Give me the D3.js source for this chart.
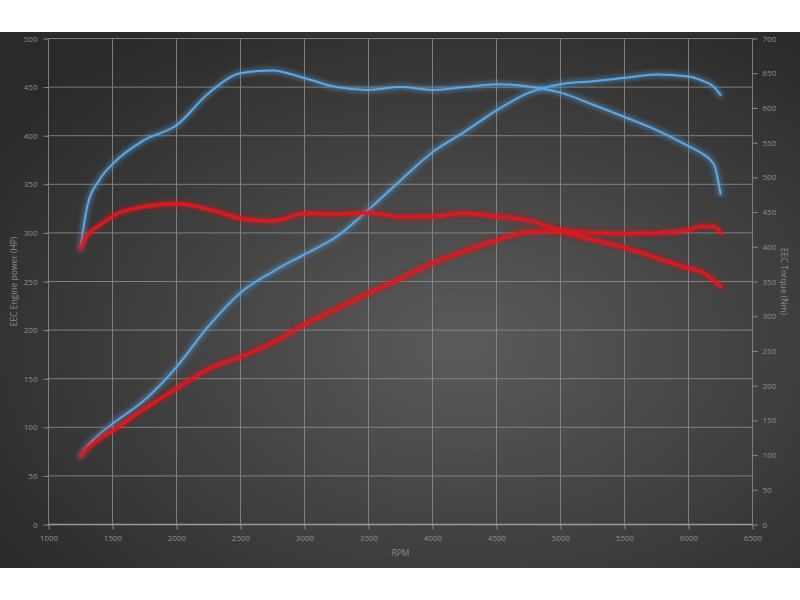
<!DOCTYPE html>
<html>
<head>
<meta charset="utf-8">
<script src="https://cdn.jsdelivr.net/npm/d3@7"></script>
<style>
  body { margin: 0; background: #fff; }
  svg { display: block; font-family: "Open Sans", sans-serif; }
</style>
</head>
<body>
<svg id="chart" width="800" height="600"></svg>
<script>
// rpm points shared by all four curves
const rpm = [1250, 1300, 1400, 1500, 1750, 2000, 2250, 2500, 2750, 3000, 3250, 3500,
             3750, 4000, 4250, 4500, 4750, 5000, 5250, 5500, 5750, 6000, 6100, 6200, 6250];

// blue car: power (HP, left axis) and torque (Nm, right axis)
const bluePower = [71, 80, 93, 103.5, 128, 162, 204, 238.5, 260, 278, 296, 324,
                   354, 383, 404, 426, 444, 453, 456, 459.5, 463, 461, 457, 450, 442];
const blueTorque = [398, 456, 497, 519, 554, 575, 621, 650, 654, 643, 630, 626,
                    630, 626, 630, 634, 631, 622, 605, 587, 568, 545, 535, 518, 476];

// red car
const redPower = [71, 78, 88, 96.5, 119, 140, 160, 172.5, 187, 206, 222, 238,
                  253, 269, 281, 292.5, 301, 302, 300, 299.5, 300, 303, 306.5, 306.5, 300];
const redTorque = [398, 416, 431, 444, 458, 462, 454, 441, 437, 448, 447, 449,
                   443, 444, 448, 444, 438, 423, 410, 399, 384, 369, 364, 351, 343];

const xTicks = d3.range(1000, 6501, 500);
const hpTicks = d3.range(0, 501, 50);
const nmTicks = d3.range(0, 701, 50);

const svg = d3.select("#chart");
const mLeft = 48.5, mRight = 752.5, mTop = 38.5, mBottom = 524.5;

const x = d3.scaleLinear().domain([1000, 6500]).range([mLeft, mRight]);
const yHp = d3.scaleLinear().domain([0, 500]).range([mBottom, mTop]);
const yNm = d3.scaleLinear().domain([0, 700]).range([mBottom, mTop]);

const defs = svg.append("defs");
const grad = defs.append("radialGradient")
    .attr("id", "bg").attr("cx", "58%").attr("cy", "58%").attr("r", "70%");
grad.append("stop").attr("offset", "0%").attr("stop-color", "#5b5b5b");
grad.append("stop").attr("offset", "100%").attr("stop-color", "#2a2a2a");

const glow = defs.append("filter").attr("id", "glow")
    .attr("x", "-10%").attr("y", "-10%").attr("width", "120%").attr("height", "120%");
glow.append("feGaussianBlur").attr("stdDeviation", 2.2);

svg.append("rect")
    .attr("x", 0).attr("y", 32).attr("width", 800).attr("height", 536)
    .attr("fill", "url(#bg)");

// grid
const grid = svg.append("g").attr("stroke", "#8c8c8c").attr("stroke-width", 1).attr("opacity", 0.85);
grid.selectAll(".gx").data(xTicks).enter().append("line")
    .attr("x1", d => x(d)).attr("x2", d => x(d))
    .attr("y1", mTop).attr("y2", mBottom);
grid.selectAll(".gy").data(hpTicks).enter().append("line")
    .attr("x1", mLeft).attr("x2", mRight)
    .attr("y1", d => yHp(d)).attr("y2", d => yHp(d));

// axes
function styleAxis(g) {
    g.select(".domain").remove();
    g.selectAll(".tick line").attr("stroke", "#8c8c8c");
    g.selectAll(".tick text").attr("fill", "#8f8f8f").attr("font-size", "8px")
        .attr("font-family", "Open Sans, sans-serif");
}
svg.append("g").attr("transform", `translate(0,${mBottom})`)
    .call(d3.axisBottom(x).tickValues(xTicks).tickFormat(d3.format("d")).tickSize(5).tickPadding(6))
    .call(styleAxis);
svg.append("g").attr("transform", `translate(${mLeft},0)`)
    .call(d3.axisLeft(yHp).tickValues(hpTicks).tickSize(5).tickPadding(6))
    .call(styleAxis);
svg.append("g").attr("transform", `translate(${mRight},0)`)
    .call(d3.axisRight(yNm).tickValues(nmTicks).tickSize(5).tickPadding(5))
    .call(styleAxis);

svg.append("line").attr("x1", mLeft).attr("x2", mRight)
    .attr("y1", mBottom).attr("y2", mBottom)
    .attr("stroke", "#9a9a9a").attr("stroke-width", 1.5);

// titles
svg.append("text").attr("x", 400.5).attr("y", 556).attr("text-anchor", "middle")
    .attr("fill", "#8a8a8a").attr("font-size", "8.5px").text("RPM");
svg.append("text").attr("transform", `translate(17,${(mTop + mBottom) / 2}) rotate(-90)`)
    .attr("text-anchor", "middle").attr("fill", "#8a8a8a").attr("font-size", "8.5px")
    .text("EEC Engine power (HP)");
svg.append("text").attr("transform", `translate(781,${(mTop + mBottom) / 2}) rotate(90)`)
    .attr("text-anchor", "middle").attr("fill", "#8a8a8a").attr("font-size", "8.5px")
    .text("EEC Torque (Nm)");

// curves
const series = [
    { values: bluePower, y: yHp, color: "#62a6dc", halo: "#4f95d0", w: 2 },
    { values: blueTorque, y: yNm, color: "#62a6dc", halo: "#4f95d0", w: 2 },
    { values: redPower, y: yHp, color: "#dc1820", halo: "#e0101a", w: 3 },
    { values: redTorque, y: yNm, color: "#dc1820", halo: "#e0101a", w: 3 }
];

series.forEach(s => {
    const line = d3.line()
        .x((d, i) => x(rpm[i]))
        .y(d => s.y(d))
        .curve(d3.curveMonotoneX);
    svg.append("path").datum(s.values)
        .attr("d", line).attr("fill", "none")
        .attr("stroke", s.halo).attr("stroke-width", s.w + 4)
        .attr("stroke-opacity", 0.5).attr("stroke-linecap", "round")
        .attr("filter", "url(#glow)");
    svg.append("path").datum(s.values)
        .attr("d", line).attr("fill", "none")
        .attr("stroke", s.color).attr("stroke-width", s.w)
        .attr("stroke-linecap", "round");
});
</script>
</body>
</html>
